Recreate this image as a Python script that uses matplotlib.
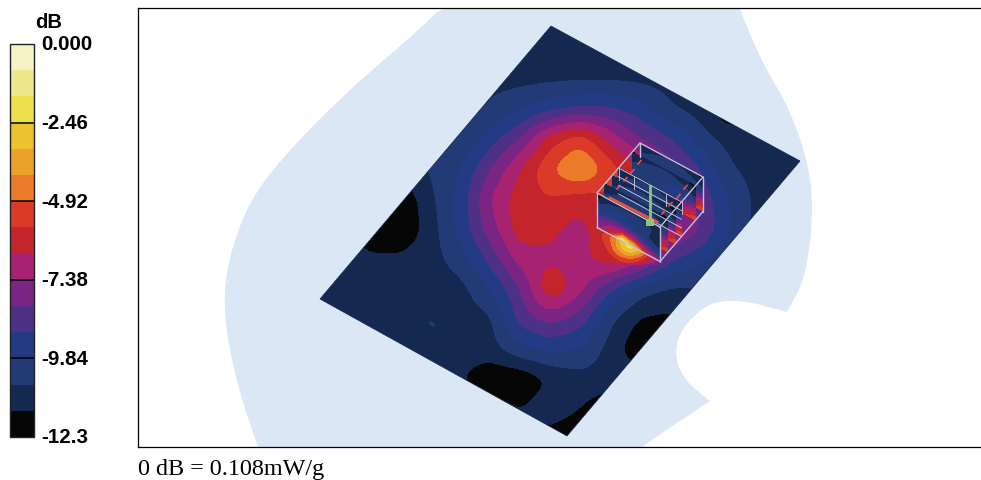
import matplotlib
matplotlib.use("Agg")
import matplotlib.pyplot as plt
from matplotlib.colors import ListedColormap, BoundaryNorm
from matplotlib.patches import Polygon, Ellipse
import numpy as np

W, H = 981, 481

# colour bands, lowest dB first
band_colors = ["#060606", "#142850", "#223A75", "#233A85", "#4F3087",
               "#7A2583", "#A82272", "#C4252D", "#DC3A28", "#EB7A29",
               "#EBA22C", "#EDC22F", "#EDE04F", "#EEE88C", "#F5F2C8"]
tick_vals = [0.0, -2.46, -4.92, -7.38, -9.84, -12.3]
tick_labels = ["0.000", "-2.46", "-4.92", "-7.38", "-9.84", "-12.3"]

# dB, on a 30 px screen grid
grid_x = np.arange(310, 821, 30)
grid_y = np.arange(20, 441, 30)
N = -11.0
grid_db = np.array([
    [N, N, N, N, N, N, N, N, N, N, N, N, N, N, N, N, N, N],
    [N, N, N, N, N, N, N, N, N, N, N, N, N, N, N, N, N, N],
    [N, N, N, N, N, N, N, -10.95, -10.9, -10.85, -10.85, -10.9, N, N, N, N, N, N],
    [N, N, N, N, N, N, -10.5, -9.95, -9.3, -8.9, -8.9, -9.5, -10.6, N, -12.3, N, N, N],
    [N, N, N, N, N, -10.6, -9.5, -8.2, -6.2, -5.2, -6.9, -8.2, -8.95, -10.3, N, N, N, N],
    [N, N, N, N, -10.6, -9.9, -8.2, -6.6, -5.0, -3.9, -5.3, -6.6, -7.8, -9.0, -10.6, N, N, N],
    [N, N, N, -12.3, -10.9, -9.6, -7.38, -6.1, -5.8, -6.2, -6.0, -6.6, -7.5, -8.4, -9.95, N, N, N],
    [N, N, -12.2, -12.3, -11.1, -9.6, -7.8, -6.1, -6.4, -6.9, -5.8, -5.0, -7.0, -8.2, -9.84, N, N, N],
    [N, -11.0, -11.3, -11.3, -11.0, -10.3, -8.8, -7.0, -6.7, -6.9, -6.0, -7.0, -8.9, -9.6, -10.7, N, N, N],
    [N, -11.0, -11.0, -11.0, -11.0, -11.0, -9.9, -8.3, -5.8, -7.1, -9.0, -10.3, -10.8, -10.8, N, N, N, N],
    [N, N, -11.1, -11.1, -11.1, -11.0, -10.9, -8.7, -7.9, -8.6, -10.5, -11.6, -11.7, N, N, N, N, N],
    [N, N, N, N, -11.1, -11.1, -11.0, -10.1, -9.7, -9.9, -11.0, -12.2, -12.2, N, N, N, N, N],
    [N, N, N, N, N, -11.4, -12.2, -12.2, -11.4, -11.0, -11.0, -11.0, -11.0, N, N, N, N, N],
    [N, N, N, N, N, N, N, -11.5, -11.0, -11.48, -12.2, N, N, N, N, N, N, N],
    [N, N, N, N, N, N, N, N, -11.9, -12.2, -12.2, N, N, N, N, N, N, N],
])

# finer patch over the hot spot under the probe box
hot_x = np.arange(600, 661, 10)
hot_y = np.arange(225, 266, 10)
hot_db = np.array([
    [-6.5, -6.0, -5.5, -5.0, -5.5, -6.0, -7.0],
    [-6.0, -5.0, -3.8, -3.2, -4.0, -5.5, -6.5],
    [-6.2, -5.2, -3.2, -1.0, -2.5, -5.0, -6.5],
    [-6.8, -5.8, -4.4, -3.3, -4.0, -5.8, -7.0],
    [-7.5, -7.2, -6.8, -6.8, -7.2, -7.8, -8.5],
])

# slices inside the probe box, top row to bottom row
front_slice_db = np.array([
    [-12.2, -11.2, -11.0, -11.0, -10.8, -10.6],
    [-11.0, -10.3, -9.9, -10.0, -10.5, -11.0],
    [-9.6, -9.3, -9.4, -9.9, -10.6, -11.5],
    [-8.6, -7.5, -7.0, -7.6, -9.0, -10.5],
    [-7.6, -6.0, -1.5, -3.5, -6.5, -8.0],
])
back_slice_db = np.array([
    [-11.6, -11.0, -10.8, -10.8, -11.2, -12.0],
    [-10.6, -10.2, -9.9, -9.9, -10.2, -10.8],
    [-9.8, -9.9, -10.0, -9.4, -8.4, -7.4],
    [-9.2, -9.5, -9.0, -7.5, -6.0, -5.0],
])
slice_steps = [1.0, 0.82, 0.5, 0.35, 0.18]

# plate and probe box corners, pixels
plate_x = [551, 800, 567, 320]
plate_y = [27, 162, 437, 300]
box_a = np.array([597.0, 194.0])
box_along = np.array([63.0, 34.0])
box_depth = np.array([43.0, -50.0])
box_down = np.array([0.0, 34.5])

# outline of the pale phantom shape, pixels (repeated points keep corners sharp)
shape_x = [262, 235, 223, 228, 250, 290, 350, 420, 450, 736, 736, 760, 790, 810, 813,
           805, 787, 787, 787, 743, 710, 683, 674, 683, 710, 710, 710, 653, 625, 262]
shape_y = [460, 380, 310, 260, 200, 150, 90, 30, 0, 0, 0, 60, 110, 170, 220,
           280, 313, 313, 313, 301, 303, 327, 353, 380, 402, 402, 402, 440, 460, 460]


def chaikin(xs, ys, passes=3):
    pts = np.column_stack([xs, ys]).astype(float)
    for _ in range(passes):
        nxt = np.roll(pts, -1, axis=0)
        pts = np.column_stack([0.75 * pts + 0.25 * nxt, 0.25 * pts + 0.75 * nxt]).reshape(-1, 2)
    return pts


def resample(z, xs, ys, new_x, new_y):
    rows = np.array([np.interp(new_x, xs, r) for r in z])
    return np.array([np.interp(new_y, ys, c) for c in rows.T]).T


def blur(z, size=5, passes=2):
    kernel = np.ones(size) / size
    pad = size // 2
    for _ in range(passes):
        z = np.pad(z, pad, mode="edge")
        z = np.apply_along_axis(lambda m: np.convolve(m, kernel, mode="same"), 0, z)
        z = np.apply_along_axis(lambda m: np.convolve(m, kernel, mode="same"), 1, z)
        z = z[pad:-pad, pad:-pad]
    return z


fig = plt.figure(figsize=(W / 100, H / 100), dpi=100)
ax = fig.add_axes([138 / W, 1 - 448 / H, 843 / W, 439 / H])
ax.set_xlim(138, 981)
ax.set_ylim(448, 9)
ax.set_xticks([])
ax.set_yticks([])
ax.spines["right"].set_visible(False)
for s in ["top", "left", "bottom"]:
    ax.spines[s].set_linewidth(0.9)

ax.add_patch(Polygon(chaikin(shape_x, shape_y), closed=True, facecolor="#DCE7F5",
                     edgecolor="none", zorder=1))

levels = np.linspace(-12.3, 0, 16)
cmap = ListedColormap(band_colors)
norm = BoundaryNorm(levels, cmap.N)

fine_x = np.arange(310, 821, 3.0)
fine_y = np.arange(20, 441, 3.0)
field = blur(resample(grid_db, grid_x, grid_y, fine_x, fine_y))
# hot spot goes in after the blur so it stays sharp
ix = (fine_x >= hot_x[0]) & (fine_x <= hot_x[-1])
iy = (fine_y >= hot_y[0]) & (fine_y <= hot_y[-1])
patch = blur(resample(hot_db, hot_x, hot_y, fine_x[ix], fine_y[iy]), size=3)
sub = field[np.ix_(iy, ix)]
field[np.ix_(iy, ix)] = np.maximum(sub, patch)

plate = Polygon(np.column_stack([plate_x, plate_y]), closed=True, facecolor="none",
                edgecolor="#142850", lw=0.5, zorder=3)
ax.add_patch(plate)
cs = ax.contourf(fine_x, fine_y, np.clip(field, -12.29, -0.01), levels=levels,
                 cmap=cmap, norm=norm, zorder=2)
cs.set_clip_path(plate)
ax.add_patch(Ellipse((432, 325), 7, 4, angle=25, facecolor="#223A75", edgecolor="none", zorder=3))


def draw_slice(values, corner, zorder):
    rows, cols = values.shape
    s = np.linspace(0, 1, cols)
    t = np.linspace(0, 1, rows)
    ss, tt = np.meshgrid(s, t)
    px = corner[0] + ss * box_along[0] + tt * box_down[0] * 0.98
    py = corner[1] + ss * box_along[1] + tt * box_down[1] * 0.98
    ax.contourf(px, py, np.clip(values, -12.29, -0.01), levels=levels, cmap=cmap,
                norm=norm, zorder=zorder)


for i, step in enumerate(slice_steps):
    draw_slice(back_slice_db, box_a + step * box_depth, 4 + i * 0.1)
draw_slice(front_slice_db, box_a, 5)

# pale grid on the middle slice, seen through the slices in front of it
grid_corner = box_a + 0.5 * box_depth
for f in np.linspace(0, 1, 5):
    a = grid_corner + f * box_down
    b = a + box_along
    ax.plot([a[0], b[0]], [a[1], b[1]], color="#D8D0E0", lw=0.6, zorder=4.45)
for f in np.linspace(0, 1, 5):
    a = grid_corner + f * box_along
    b = a + 0.35 * box_down
    ax.plot([a[0], b[0]], [a[1], b[1]], color="#D8D0E0", lw=0.6, zorder=4.45)

# box wireframe
a = box_a
t = a + box_depth
f = a + box_along
r = f + box_depth
wire = [(a, t), (t, r), (r, f), (f, a), (a, a + box_down), (f, f + box_down),
        (r, r + box_down), (a + box_down, f + box_down), (f + box_down, r + box_down),
        (t, t + 0.4 * box_down)]
for p, q in wire:
    ax.plot([p[0], q[0]], [p[1], q[1]], color="#C8BED8", lw=1.0, zorder=6,
            solid_capstyle="round")

# probe scan line, red ticks and green marker
ax.plot([610, 657], [199, 223], color="#E85040", lw=2, zorder=6)
tick_x = [638, 631, 624, 617, 684, 669, 662, 677]
tick_y = [165, 174, 182, 190, 190, 207, 215, 199]
for x0, y0 in zip(tick_x, tick_y):
    ax.plot([x0, x0 + 3], [y0, y0 - 3.5], color="#E85040", lw=1.2, zorder=6)
ax.plot([650, 650], [187, 223], color="#8CC870", lw=2, zorder=7)
ax.add_patch(Polygon([(646, 220), (654, 220), (654, 227), (646, 227)], closed=True,
                     facecolor="#8CC870", edgecolor="none", zorder=7))

cax = fig.add_axes([10 / W, 1 - 438 / H, 24 / W, 393 / H])
cbar = fig.colorbar(cs, cax=cax, ticks=tick_vals, spacing="proportional")
cbar.set_ticklabels([])
cax.minorticks_off()
cax.tick_params(which="both", length=0)
# placed by hand so they line up with the band lines
for v, lab in zip(tick_vals, tick_labels):
    cax.annotate(lab, (1, v), xycoords=cax.get_yaxis_transform(), xytext=(5, 0),
                 textcoords="offset points", va="center", ha="left", fontsize=14.8,
                 fontfamily="Liberation Sans", fontweight="bold", annotation_clip=False)
for v in tick_vals[1:-1]:
    cax.axhline(v, color="black", lw=1.1)
cbar.outline.set_linewidth(1.0)
cbar.outline.set_edgecolor("#222222")

fig.text(49 / W, 1 - 22 / H, "dB", ha="center", va="center", fontsize=14.5,
         fontfamily="Liberation Sans", fontweight="bold")
fig.text(138 / W, 1 - 470 / H, "0 dB = 0.108mW/g", ha="left", va="center", fontsize=17.4,
         fontfamily="Liberation Serif")

fig.savefig("out.png", dpi=100, facecolor="white")
plt.close(fig)
